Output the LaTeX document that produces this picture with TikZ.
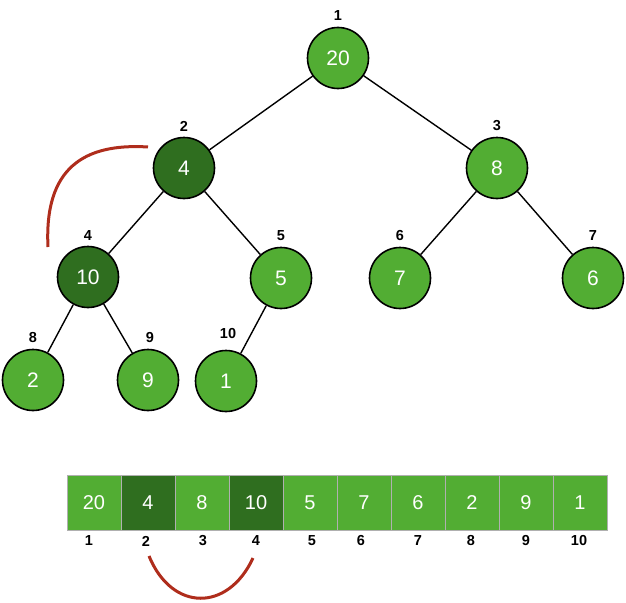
\documentclass[tikz,border=0pt]{standalone}
\usepackage{fontspec}
\setmainfont{Liberation Sans}
\definecolor{lg}{HTML}{52AD33}
\definecolor{dg}{HTML}{2F6E1F}
\definecolor{arcred}{HTML}{AF2D1C}
\definecolor{cellline}{HTML}{B0B0B0}
\begin{document}
\begin{tikzpicture}[x=1pt,y=-1pt,
  hn/.style={circle,draw=black,line width=1.6pt,minimum size=61pt,inner sep=0pt,text=white,font=\fontsize{21}{21}\selectfont},
  light/.style={hn,fill=lg},
  dark/.style={hn,fill=dg},
  idx/.style={font=\bfseries\fontsize{14.5}{14.5}\selectfont,inner sep=0pt},
  edge/.style={line width=1.4pt,black},
  cell/.style={draw=cellline,line width=0.8pt,minimum width=54pt,minimum height=55pt,inner sep=0pt,text=white,font=\fontsize{20}{20}\selectfont},
  lcell/.style={cell,fill=lg},
  dcell/.style={cell,fill=dg},
  redarc/.style={arcred,line width=3pt}]
\useasboundingbox (0,0) rectangle (626,602);
% tree nodes
\node[light] (n1) at (338,58) {20};
\node[dark]  (n2) at (184,168) {4};
\node[light] (n3) at (497,168) {8};
\node[dark]  (n4) at (88,277) {10};
\node[light] (n5) at (281,278) {5};
\node[light] (n6) at (400,278) {7};
\node[light] (n7) at (593,278) {6};
\node[light] (n8) at (33,380) {2};
\node[light] (n9) at (148,380) {9};
\node[light] (n10) at (226,381) {1};
% edges
\draw[edge] (n1) -- (n2);
\draw[edge] (n1) -- (n3);
\draw[edge] (n2) -- (n4);
\draw[edge] (n2) -- (n5);
\draw[edge] (n3) -- (n6);
\draw[edge] (n3) -- (n7);
\draw[edge] (n4) -- (n8);
\draw[edge] (n4) -- (n9);
\draw[edge] (n5) -- (n10);
% tree index labels
\node[idx] (t1) at (338,16) {1};
\node[idx] (t2) at (184,126) {2};
\node[idx] (t3) at (497,126) {3};
\node[idx] (t4) at (88,236) {4};
\node[idx] (t5) at (281,236) {5};
\node[idx] (t6) at (400,236) {6};
\node[idx] (t7) at (593,236) {7};
\node[idx] (t8) at (33,338) {8};
\node[idx] (t9) at (150,338) {9};
\node[idx] (t10) at (228,334) {10};
% array
\node[lcell] (c1) at (94,502.5) {20};
\node[dcell] (c2) at (148,502.5) {4};
\node[lcell] (c3) at (202,502.5) {8};
\node[dcell] (c4) at (256,502.5) {10};
\node[lcell] (c5) at (310,502.5) {5};
\node[lcell] (c6) at (364,502.5) {7};
\node[lcell] (c7) at (418,502.5) {6};
\node[lcell] (c8) at (472,502.5) {2};
\node[lcell] (c9) at (526,502.5) {9};
\node[lcell] (c10) at (580,502.5) {1};
% array index labels
\node[idx] (a1) at (89,541) {1};
\node[idx] (a2) at (146,541) {2};
\node[idx] (a3) at (203,541) {3};
\node[idx] (a4) at (256,541) {4};
\node[idx] (a5) at (312,541) {5};
\node[idx] (a6) at (361,541) {6};
\node[idx] (a7) at (418,541) {7};
\node[idx] (a8) at (471,541) {8};
\node[idx] (a9) at (526,541) {9};
\node[idx] (a10) at (579,541) {10};
% red arcs
\coordinate (r1s) at (148,147);
\coordinate (r1e) at (48,247);
\draw[redarc] (r1s) .. controls (84,143) and (44,168) .. (r1e);
\coordinate (r2s) at (149,556);
\coordinate (r2e) at (253,558);
\draw[redarc] (r2s) .. controls (172,612) and (228,612) .. (r2e);
\end{tikzpicture}
\end{document}
